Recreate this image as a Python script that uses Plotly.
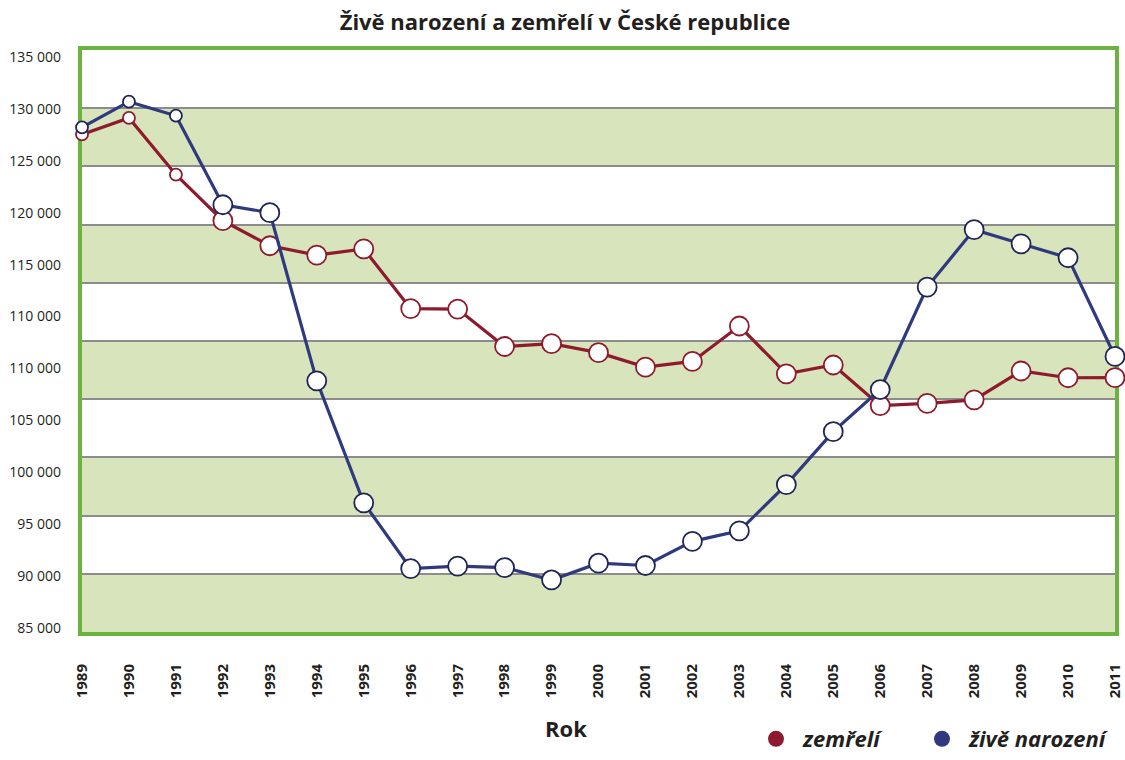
import plotly.graph_objects as go

# ---- data ----
years = list(range(1989, 2012))
births = [128356, 130564, 129354, 121705, 121025, 106579, 96097, 90446, 90657, 90535,
          89471, 90910, 90715, 92786, 93685, 97664, 102211, 105831, 114632, 119570,
          118348, 117153, 108673]
deaths = [127747, 129166, 124290, 120337, 118185, 117373, 117913, 112782, 112744, 109527,
          109768, 109001, 107755, 108243, 111288, 107177, 107938, 104441, 104636, 104948,
          107421, 106844, 106848]
ytick_labels = ["135 000", "130 000", "125 000", "120 000", "115 000", "110 000",
                "110 000", "105 000", "100 000", "95 000", "90 000", "85 000"]
band_lows = [85000, 95000, 105000, 115000, 125000]
band_height = 5000
series_names = ["zemřelí", "živě narození"]

# ---- style ----
RED = "#8e1b2d"
BLUE = "#2f3a7e"
GREEN = "#6bb23f"
BAND = "#d8e4bb"
GRID = "#8c8c8c"
TXT = "#231f20"
FONT = "Open Sans"

msize = [12 if y <= 1991 else 19 for y in years]

fig = go.Figure()

fig.add_trace(go.Scatter(
    x=years, y=deaths, mode="lines+markers", showlegend=False, cliponaxis=False,
    line=dict(color=RED, width=3.2),
    marker=dict(size=msize, color="white", opacity=1, line=dict(color=RED, width=1.8)),
))
fig.add_trace(go.Scatter(
    x=years, y=births, mode="lines+markers", showlegend=False, cliponaxis=False,
    line=dict(color=BLUE, width=3.2),
    marker=dict(size=msize, color="white", opacity=1, line=dict(color="#1f2657", width=1.8)),
))
# legend entries (one legend box each, for exact placement)
fig.add_trace(go.Scatter(x=[None], y=[None], mode="markers", legend="legend",
                         marker=dict(size=22, color=RED),
                         name="<b><i>%s</i></b>" % series_names[0]))
fig.add_trace(go.Scatter(x=[None], y=[None], mode="markers", legend="legend2",
                         marker=dict(size=22, color=BLUE),
                         name="<b><i>%s</i></b>" % series_names[1]))
# dummy trace for the label axis
fig.add_trace(go.Scatter(x=[None], y=[None], yaxis="y2", showlegend=False,
                         hoverinfo="skip"))

shapes = []
for lo in band_lows:
    shapes.append(dict(type="rect", xref="x domain", yref="y", x0=0, x1=1,
                       y0=lo, y1=lo + band_height, fillcolor=BAND,
                       line=dict(width=0), layer="below"))

legend_common = dict(orientation="h", xref="container", yref="container",
                     xanchor="left", y=0.0, yanchor="bottom",
                     font=dict(size=22, color=TXT, family=FONT),
                     bgcolor="rgba(0,0,0,0)", itemwidth=44)

n = len(ytick_labels)
fig.update_layout(
    width=1125, height=760,
    margin=dict(l=82, r=10, t=50, b=128),
    paper_bgcolor="white", plot_bgcolor="white",
    font=dict(family=FONT, color=TXT),
    title=dict(text="<b>Živě narození a zemřelí v České republice</b>",
               x=565 / 1125, xanchor="center", y=1 - 22 / 760, yanchor="middle",
               font=dict(size=22, color=TXT, family=FONT)),
    shapes=shapes,
    annotations=[dict(text="<b>Rok</b>", xref="paper", yref="paper",
                      x=(566 - 82) / 1033, y=-(728 - 632) / 582,
                      xanchor="center", yanchor="middle", showarrow=False,
                      font=dict(size=22, color=TXT, family=FONT))],
    xaxis=dict(range=[years[0], years[-1]], tickmode="array", tickvals=years,
               ticktext=[str(y) for y in years], tickangle=-90,
               tickfont=dict(size=15, family=FONT, color=TXT, weight="bold"),
               ticks="", ticklabelstandoff=22, automargin=False,
               showgrid=False, zeroline=False,
               showline=True, linecolor=GREEN, linewidth=4, mirror=True,
               layer="below traces"),
    yaxis=dict(range=[85000, 135000], tick0=85000, dtick=5000,
               showgrid=True, gridcolor=GRID, gridwidth=1.6, automargin=False,
               showticklabels=False, ticks="", zeroline=False,
               showline=True, linecolor=GREEN, linewidth=4, mirror=True,
               layer="below traces"),
    yaxis2=dict(overlaying="y", side="left", range=[-0.077, 11.135],
                tickmode="array", tickvals=list(range(n - 1, -1, -1)),
                ticktext=ytick_labels, showgrid=False, zeroline=False,
                showline=False, ticks="", ticklabelstandoff=20, automargin=False,
                tickfont=dict(size=14, family=FONT, color=TXT)),
    legend=dict(x=749 / 1125, **legend_common),
    legend2=dict(x=915 / 1125, **legend_common),
)

fig.write_html("out.html", config={"displayModeBar": False},
               post_script="document.body.style.margin='0px';"
                           "document.body.style.overflow='hidden';")
